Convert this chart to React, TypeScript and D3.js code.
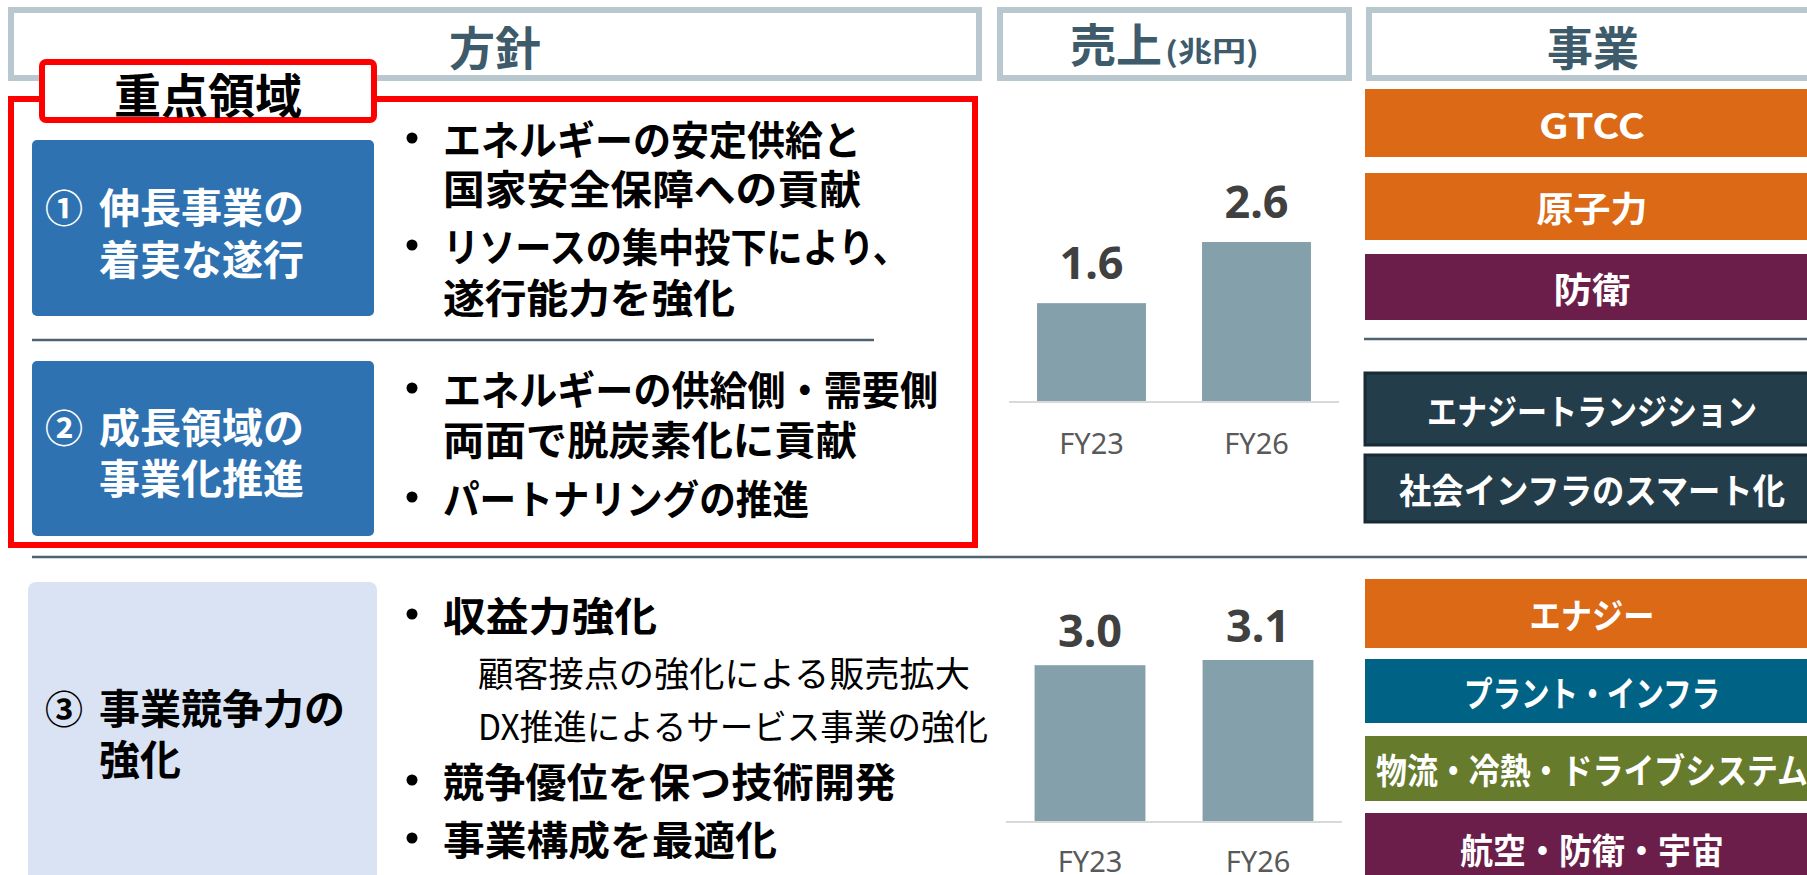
import React from "react";
import * as d3 from "d3";

// sales (trillion yen)
const years = ["FY23", "FY26"];
const focusSales = [1.6, 2.6];
const coreSales = [3.0, 3.1];

const headers = ["方針", "売上", "事業"];
const salesUnit = "(兆円)";
const focusTag = "重点領域";

const pillarMarks = ["①", "②", "③"];
const pillarTitles = [
  ["伸長事業の", "着実な遂行"],
  ["成長領域の", "事業化推進"],
  ["事業競争力の", "強化"],
];

const focusPolicy = [
  ["エネルギーの安定供給と", "国家安全保障への貢献"],
  ["リソースの集中投下により、", "遂行能力を強化"],
];
const growthPolicy = [["エネルギーの供給側・需要側", "両面で脱炭素化に貢献"], ["パートナリングの推進"]];
const corePolicy = ["収益力強化", "競争優位を保つ技術開発", "事業構成を最適化"];
const coreSubPolicy = ["顧客接点の強化による販売拡大", "DX推進によるサービス事業の強化"];

const focusBiz = ["GTCC", "原子力", "防衛"];
const growthBiz = ["エナジートランジション", "社会インフラのスマート化"];
const coreBiz = ["エナジー", "プラント・インフラ", "物流・冷熱・ドライブシステム", "航空・防衛・宇宙"];

const W = 1807;
const H = 875;
const JP = "'Noto Sans CJK JP', 'Noto Sans', sans-serif";
const LAT = "'Noto Sans', 'Noto Sans CJK JP', sans-serif";

const C = {
  headBorder: "#b8c8ce",
  headText: "#3d5b6a",
  red: "#ff0000",
  blue: "#2e72b1",
  pale: "#dae3f3",
  rule: "#4d6470",
  bar: "#84a0aa",
  axis: "#d9d9d9",
  orange: "#db6915",
  purple: "#6b1e49",
  slate: "#243d4a",
  teal: "#006386",
  olive: "#667b2c",
};

// layout of policy text lines (y centre, target width)
const policyLines = [
  { t: focusPolicy[0][0], y: 138, w: 418, dot: true },
  { t: focusPolicy[0][1], y: 187, w: 418 },
  { t: focusPolicy[1][0], y: 245, w: 466, dot: true },
  { t: focusPolicy[1][1], y: 296, w: 292 },
  { t: growthPolicy[0][0], y: 388, w: 495, dot: true },
  { t: growthPolicy[0][1], y: 438, w: 414 },
  { t: growthPolicy[1][0], y: 497, w: 366, dot: true },
  { t: corePolicy[0], y: 614, w: 214, dot: true },
  { t: coreSubPolicy[0], y: 671, w: 492, sub: true },
  { t: coreSubPolicy[1], y: 724, w: 510, sub: true },
  { t: corePolicy[1], y: 780, w: 453, dot: true },
  { t: corePolicy[2], y: 838, w: 334, dot: true },
];

const pillarBoxes = [
  { x: 32, y: 140, w: 342, h: 176, fill: C.blue, color: "#fff", ys: [205, 257] },
  { x: 32, y: 361, w: 342, h: 175, fill: C.blue, color: "#fff", ys: [425, 476] },
  { x: 28, y: 582, w: 349, h: 320, fill: C.pale, color: "#000", ys: [706, 757] },
];

const bizRows = [
  { t: focusBiz[0], y: 89, h: 68, fill: C.orange, w: 106 },
  { t: focusBiz[1], y: 173, h: 67, fill: C.orange, w: 111 },
  { t: focusBiz[2], y: 254, h: 66, fill: C.purple, w: 77 },
  { t: growthBiz[0], y: 373, h: 72, fill: C.slate, w: 330, edge: true },
  { t: growthBiz[1], y: 455, h: 67, fill: C.slate, w: 386, edge: true },
  { t: coreBiz[0], y: 579, h: 69, fill: C.orange, w: 125 },
  { t: coreBiz[1], y: 659, h: 64, fill: C.teal, w: 256 },
  { t: coreBiz[2], y: 736, h: 65, fill: C.olive, w: 432 },
  { t: coreBiz[3], y: 813, h: 70, fill: C.purple, w: 264 },
];

function BarPanel({ values, x0, x1, base, top, gap, fyGap }) {
  const x = d3.scaleBand().domain(years).range([x0, x1]).paddingInner(0.34).paddingOuter(0.17);
  const y = d3.scaleLinear().domain([0, d3.max(values)]).range([base, top]);
  return (
    <g>
      {values.map((v, i) => (
        <g key={years[i]}>
          <rect x={x(years[i])} y={y(v)} width={x.bandwidth()} height={base - y(v)} fill={C.bar} />
          <text
            x={x(years[i]) + x.bandwidth() / 2}
            y={y(v) - gap}
            textAnchor="middle"
            fontFamily={LAT}
            fontWeight={700}
            fontSize={45}
            fill="#404040"
          >
            {v.toFixed(1)}
          </text>
          <text
            x={x(years[i]) + x.bandwidth() / 2}
            y={base + fyGap}
            textAnchor="middle"
            fontFamily={LAT}
            fontSize={29}
            fill="#595959"
          >
            {years[i]}
          </text>
        </g>
      ))}
      <line x1={x0} x2={x1} y1={base + 1} y2={base + 1} stroke={C.axis} strokeWidth={2} />
    </g>
  );
}

export default function App() {
  return (
    <svg
      width={W}
      height={H}
      style={{ position: "absolute", left: 0, top: 0, display: "block", background: "#fff" }}
    >
      {/* header boxes */}
      <rect x={11} y={10} width={968} height={68} fill="#fff" stroke={C.headBorder} strokeWidth={6} />
      <rect x={1000} y={10} width={349} height={68} fill="#fff" stroke={C.headBorder} strokeWidth={6} />
      <rect x={1369} y={10} width={460} height={68} fill="#fff" stroke={C.headBorder} strokeWidth={6} />
      <text x={495} y={45} textAnchor="middle" dominantBaseline="central" fontFamily={JP} fontWeight={700} fontSize={46} fill={C.headText}>
        {headers[0]}
      </text>
      <text x={1070} y={62} fontFamily={JP} fontWeight={700} fontSize={46} fill={C.headText}>
        {headers[1]}
      </text>
      <text x={1165} y={62} fontFamily={JP} fontWeight={700} fontSize={28} fill={C.headText} textLength={94} lengthAdjust="spacingAndGlyphs">
        {salesUnit}
      </text>
      <text x={1593} y={45} textAnchor="middle" dominantBaseline="central" fontFamily={JP} fontWeight={700} fontSize={46} fill={C.headText}>
        {headers[2]}
      </text>

      {/* pillar boxes */}
      {pillarBoxes.map((b, i) => (
        <g key={i}>
          <rect x={b.x} y={b.y} width={b.w} height={b.h} rx={i === 2 ? 8 : 5} fill={b.fill} />
          <text x={45} y={b.ys[0]} dominantBaseline="central" fontFamily={JP} fontWeight={700} fontSize={38} fill={b.color}>
            {pillarMarks[i]}
          </text>
          {pillarTitles[i].map((t, j) => (
            <text key={j} x={99} y={b.ys[j]} dominantBaseline="central" fontFamily={JP} fontWeight={700} fontSize={41} fill={b.color}>
              {t}
            </text>
          ))}
        </g>
      ))}

      {/* focus frame */}
      <rect x={11} y={99} width={964} height={446} fill="none" stroke={C.red} strokeWidth={6} />
      <rect x={42} y={62} width={332} height={58} rx={4} fill="#fff" stroke={C.red} strokeWidth={6} />
      <text x={208} y={92} textAnchor="middle" dominantBaseline="central" fontFamily={JP} fontWeight={700} fontSize={47} fill="#000">
        {focusTag}
      </text>

      {/* policy lines */}
      {policyLines.map((l, i) => (
        <g key={i}>
          {l.dot && <circle cx={412} cy={l.y} r={5.5} fill="#000" />}
          <text
            x={l.sub ? 478 : 443}
            y={l.y}
            dominantBaseline="central"
            fontFamily={JP}
            fontWeight={l.sub ? 400 : 700}
            fontSize={l.sub ? 35 : 40}
            fill="#000"
            textLength={l.w}
            lengthAdjust="spacingAndGlyphs"
          >
            {l.t}
          </text>
        </g>
      ))}

      {/* rules */}
      <line x1={32} x2={874} y1={340} y2={340} stroke={C.rule} strokeWidth={2.5} />
      <line x1={1364} x2={W} y1={339} y2={339} stroke={C.rule} strokeWidth={2.5} />
      <line x1={32} x2={W} y1={557} y2={557} stroke={C.rule} strokeWidth={2.5} />

      {/* sales bars */}
      <BarPanel values={focusSales} x0={1009} x1={1339} base={401} top={242} gap={24} fyGap={53} />
      <BarPanel values={coreSales} x0={1006} x1={1342} base={821} top={660} gap={18} fyGap={51} />

      {/* businesses */}
      {bizRows.map((r, i) => (
        <g key={i}>
          <rect
            x={1365}
            y={r.y}
            width={470}
            height={r.h}
            fill={r.fill}
            stroke={r.edge ? "#172b35" : "none"}
            strokeWidth={r.edge ? 3 : 0}
          />
          <text
            x={1592}
            y={r.y + r.h / 2}
            textAnchor="middle"
            dominantBaseline="central"
            fontFamily={JP}
            fontWeight={700}
            fontSize={35}
            fill="#fff"
            textLength={r.w}
            lengthAdjust="spacingAndGlyphs"
          >
            {r.t}
          </text>
        </g>
      ))}
    </svg>
  );
}
